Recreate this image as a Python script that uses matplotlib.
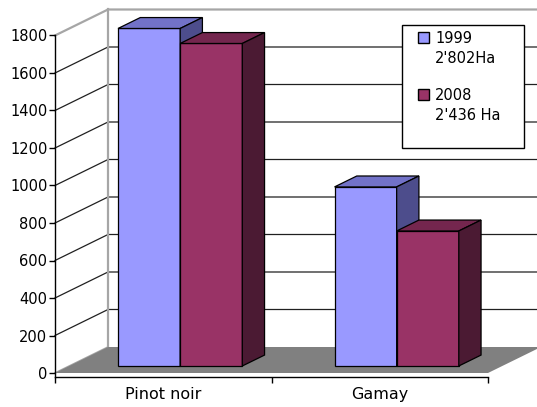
import matplotlib.pyplot as plt
from matplotlib.patches import Polygon, Rectangle
from matplotlib.transforms import Affine2D

CATEGORIES = ["Pinot noir", "Gamay"]
VALUES_1999 = [1800, 955]
VALUES_2008 = [1720, 720]
LEGEND_1999 = "1999\n2'802Ha"
LEGEND_2008 = "2008\n2'436 Ha"
Y_TICKS = [0, 200, 400, 600, 800, 1000, 1200, 1400, 1600, 1800]

FIG_W, FIG_H = 537, 407
DPI = 100

# front plane of the plot area, in pixels from the top-left corner
AX_LEFT, AX_RIGHT = 55, 488
AX_BOTTOM = 377
ZERO_PX = 373
PX_PER_UNIT = 0.1875
Y_MAX = 1800
Y_MIN = -(AX_BOTTOM - ZERO_PX) / PX_PER_UNIT
AX_TOP = ZERO_PX - Y_MAX * PX_PER_UNIT

# full depth of the 3d box, in pixels, turned into data units
PX_PER_CAT = (AX_RIGHT - AX_LEFT) / len(CATEGORIES)
DEPTH_X = 53 / PX_PER_CAT
DEPTH_Y = 26 / PX_PER_UNIT

BAR_WIDTH = 0.287
BAR_SHIFT = 0.012
BAR_FRONT = 0.27   # fraction of depth where the bar front sits
BAR_DEPTH = 0.42   # fraction of depth taken by the bar

BLUE = ("#9999ff", "#7272c8", "#4d4d8c")
PLUM = ("#993366", "#74264e", "#4b1a33")
WALL_EDGE = "#a6a6a6"
FLOOR = "#808080"

plt.rcParams["font.family"] = ["DejaVu Sans"]

fig = plt.figure(figsize=(FIG_W / DPI, FIG_H / DPI), dpi=DPI)
ax = fig.add_axes([AX_LEFT / FIG_W, (FIG_H - AX_BOTTOM) / FIG_H,
                   (AX_RIGHT - AX_LEFT) / FIG_W, (AX_BOTTOM - AX_TOP) / FIG_H])
ax.set_xlim(0, len(CATEGORIES))
ax.set_ylim(Y_MIN, Y_MAX)

bx, by = DEPTH_X, DEPTH_Y
right = len(CATEGORIES) + bx

# floor
ax.add_patch(Polygon([(0, 0), (len(CATEGORIES), 0), (right, by), (bx, by)],
                     closed=True, facecolor=FLOOR, edgecolor="none",
                     zorder=2, clip_on=False))

# side wall diagonals and back wall grid
for v in Y_TICKS[1:-1]:
    ax.plot([0, bx, right], [v, v + by, v + by], color="#202020", lw=0.9,
            zorder=1, clip_on=False)
ax.plot([0, bx, right], [Y_MAX, Y_MAX + by, Y_MAX + by], color=WALL_EDGE,
        lw=1.6, zorder=1, clip_on=False)
ax.plot([0, bx], [0, by], color=WALL_EDGE, lw=1.2, zorder=1, clip_on=False)
ax.plot([bx, bx], [by, Y_MAX + by], color=WALL_EDGE, lw=1.6, zorder=1,
        clip_on=False)


def draw_bar(x0, height, shades, z):
    front, top, side = shades
    x0 = x0 + BAR_FRONT * bx
    y0 = BAR_FRONT * by
    x1 = x0 + BAR_WIDTH
    y1 = y0 + height
    dx, dy = BAR_DEPTH * bx, BAR_DEPTH * by
    faces = [
        ([(x0, y0), (x1, y0), (x1, y1), (x0, y1)], front),
        ([(x0, y1), (x1, y1), (x1 + dx, y1 + dy), (x0 + dx, y1 + dy)], top),
        ([(x1, y0), (x1 + dx, y0 + dy), (x1 + dx, y1 + dy), (x1, y1)], side),
    ]
    for pts, color in faces:
        ax.add_patch(Polygon(pts, closed=True, facecolor=color,
                             edgecolor="black", lw=0.9, zorder=z,
                             clip_on=False))


z = 3
for i in range(len(CATEGORIES)):
    start = i + 0.5 - BAR_WIDTH + BAR_SHIFT
    draw_bar(start, VALUES_1999[i], BLUE, z)
    draw_bar(start + BAR_WIDTH, VALUES_2008[i], PLUM, z + 1)
    z += 2

# axes
for s in ("top", "right"):
    ax.spines[s].set_visible(False)
for s in ("left", "bottom"):
    ax.spines[s].set_color("black")
    ax.spines[s].set_linewidth(1.0)
    ax.spines[s].set_zorder(10)
ax.patch.set_visible(False)

ax.set_yticks(Y_TICKS)
ax.set_yticklabels([str(v) for v in Y_TICKS], fontsize=10.5)
ax.tick_params(axis="y", length=4, width=1, pad=1.5)

ax.set_xticks(range(len(CATEGORIES) + 1))
ax.set_xticklabels([])
ax.set_xticks([i + 0.5 for i in range(len(CATEGORIES))], minor=True)
ax.set_xticklabels(CATEGORIES, minor=True, fontsize=11.5)
ax.tick_params(axis="x", which="major", length=4, width=1)
ax.tick_params(axis="x", which="minor", length=0, pad=7)

# legend box drawn in pixel space
px = Affine2D().scale(1 / FIG_W, -1 / FIG_H).translate(0, 1) + fig.transFigure
fig.add_artist(Rectangle((402, 25), 122, 123, transform=px, facecolor="white",
                         edgecolor="black", lw=1.0, zorder=20))
for top, shades, label in ((32, BLUE, LEGEND_1999), (89, PLUM, LEGEND_2008)):
    fig.add_artist(Rectangle((418, top), 11, 11, transform=px,
                             facecolor=shades[0], edgecolor="black", lw=1.0,
                             zorder=21))
    fig.text(435 / FIG_W, 1 - (top - 1) / FIG_H, label, fontsize=10.5,
             va="top", ha="left", linespacing=1.45, zorder=21)

fig.savefig("out.png", dpi=DPI)
